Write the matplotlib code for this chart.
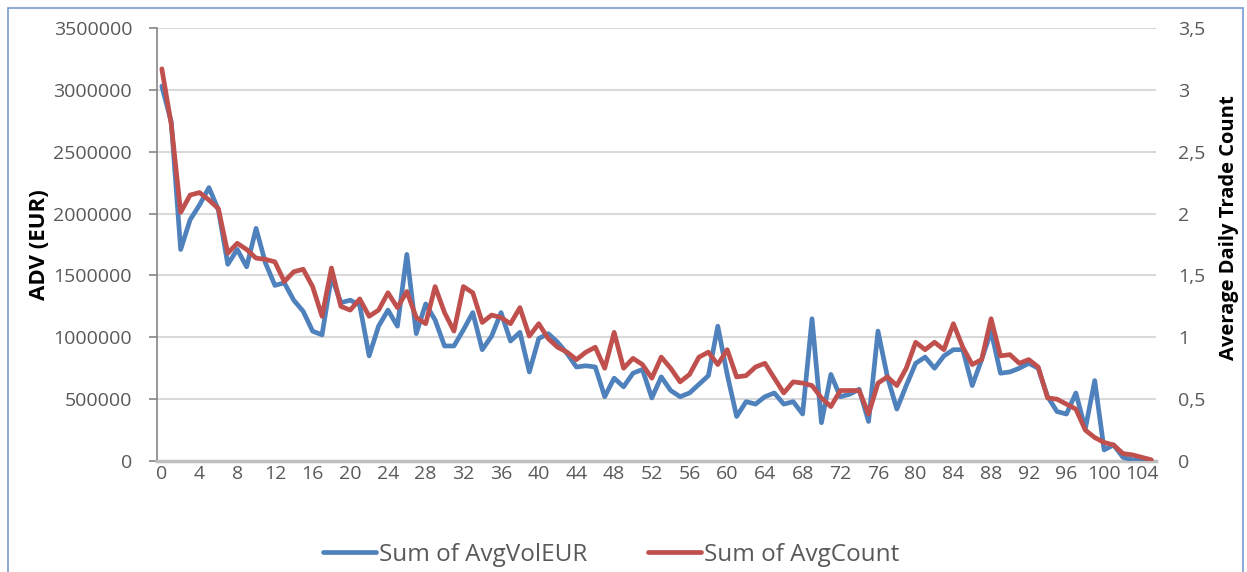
import numpy as np
import matplotlib
matplotlib.use("Agg")
import matplotlib.pyplot as plt
from matplotlib.patches import Rectangle
from matplotlib.ticker import FuncFormatter

# values
days = list(range(106))
avg_vol_eur_m = [
    3.03, 2.74, 1.71, 1.95, 2.07, 2.21, 2.03, 1.59, 1.71, 1.57,
    1.88, 1.60, 1.42, 1.44, 1.30, 1.21, 1.05, 1.02, 1.49, 1.28,
    1.30, 1.26, 0.85, 1.09, 1.22, 1.09, 1.67, 1.03, 1.27, 1.14,
    0.93, 0.93, 1.06, 1.20, 0.90, 1.01, 1.20, 0.97, 1.04, 0.72,
    0.99, 1.03, 0.96, 0.87, 0.76, 0.77, 0.76, 0.52, 0.67, 0.60,
    0.71, 0.74, 0.51, 0.68, 0.57, 0.52, 0.55, 0.62, 0.69, 1.09,
    0.70, 0.36, 0.48, 0.46, 0.52, 0.55, 0.46, 0.48, 0.38, 1.15,
    0.31, 0.70, 0.52, 0.54, 0.58, 0.32, 1.05, 0.68, 0.42, 0.61,
    0.79, 0.84, 0.75, 0.85, 0.90, 0.90, 0.61, 0.82, 1.05, 0.71,
    0.72, 0.75, 0.79, 0.75, 0.52, 0.40, 0.38, 0.55, 0.26, 0.65,
    0.09, 0.13, 0.03, 0.01, 0.01, 0.005,
]
avg_count = [
    3.17, 2.72, 2.01, 2.15, 2.17, 2.11, 2.04, 1.68, 1.76, 1.71,
    1.64, 1.63, 1.61, 1.45, 1.53, 1.55, 1.41, 1.17, 1.56, 1.25,
    1.22, 1.31, 1.17, 1.22, 1.36, 1.24, 1.37, 1.16, 1.11, 1.41,
    1.20, 1.05, 1.41, 1.36, 1.12, 1.18, 1.16, 1.11, 1.24, 1.01,
    1.11, 0.99, 0.92, 0.88, 0.82, 0.88, 0.92, 0.75, 1.04, 0.75,
    0.83, 0.78, 0.67, 0.84, 0.75, 0.64, 0.70, 0.84, 0.88, 0.78,
    0.90, 0.68, 0.69, 0.76, 0.79, 0.67, 0.55, 0.64, 0.63, 0.61,
    0.51, 0.44, 0.57, 0.57, 0.57, 0.38, 0.63, 0.68, 0.61, 0.75,
    0.96, 0.90, 0.96, 0.90, 1.11, 0.92, 0.78, 0.82, 1.15, 0.85,
    0.86, 0.79, 0.82, 0.76, 0.51, 0.50, 0.46, 0.42, 0.25, 0.19,
    0.15, 0.13, 0.06, 0.05, 0.03, 0.01,
]
avg_vol_eur = [v * 1e6 for v in avg_vol_eur_m]
x_ticks = list(range(0, 105, 4))

plt.rcParams['font.family'] = ['Open Sans', 'DejaVu Sans']

fig = plt.figure(figsize=(12.47, 5.72), dpi=100)
ax = fig.add_axes([0.126, 0.194, 0.801, 0.757])
ax2 = ax.twinx()

grey = '#595959'
ax.plot(days, avg_vol_eur, color='#4f81bd', lw=3.4, solid_capstyle='round',
        solid_joinstyle='round', label='Sum of AvgVolEUR', zorder=3)
ax2.plot(days, avg_count, color='#c0504d', lw=3.4, solid_capstyle='round',
         solid_joinstyle='round', label='Sum of AvgCount', zorder=3)

ax.set_xlim(-0.5, 105.5)
ax.set_ylim(0, 3500000)
ax2.set_ylim(0, 3.5)
ax.set_yticks(np.arange(0, 3500001, 500000))
ax.yaxis.set_major_formatter(FuncFormatter(lambda v, p: f"{int(v)}"))
ax2.set_yticks(np.arange(0, 3.51, 0.5))
ax2.yaxis.set_major_formatter(
    FuncFormatter(lambda v, p: (f"{v:g}").replace('.', ',')))
ax.set_xticks(x_ticks)
ax.set_xticklabels([str(t) for t in x_ticks])

ax.grid(axis='y', color='#d9d9d9', lw=1.5, zorder=0)
ax.set_axisbelow(True)

for a in (ax, ax2):
    for s in a.spines.values():
        s.set_visible(False)
ax.spines['left'].set_visible(True)
ax.spines['left'].set_color('#868686')
ax.spines['left'].set_linewidth(1.2)
ax.spines['bottom'].set_visible(True)
ax.spines['bottom'].set_color('#bfbfbf')
ax.spines['bottom'].set_linewidth(2.5)

ax.tick_params(axis='y', colors='#868686', labelcolor=grey, labelsize=14,
               length=6, width=1.2, pad=12)
ax.tick_params(axis='x', length=0, labelcolor=grey, labelsize=14, pad=3)
ax2.tick_params(axis='y', length=0, labelcolor=grey, labelsize=14, pad=16)

ax.set_ylabel('ADV (EUR)', fontsize=16, fontweight='bold')
ax.yaxis.set_label_coords(-0.107, 0.5)
ax2.set_ylabel('Average Daily Trade Count', fontsize=14.5, fontweight='bold')
ax2.yaxis.set_label_coords(1.063, 0.538)

h1, l1 = ax.get_legend_handles_labels()
h2, l2 = ax2.get_legend_handles_labels()
fig.legend(h1 + h2, l1 + l2, loc='center', bbox_to_anchor=(0.49, 0.03),
           ncol=2, frameon=False, fontsize=17.5, labelcolor=grey,
           handlelength=2.2, handletextpad=0.12, columnspacing=2.5)

fig.patches.append(Rectangle((8 / 1247, -0.05), 1235 / 1247, 1.05 - 8 / 572,
                             transform=fig.transFigure, fill=False,
                             edgecolor='#7a9ad0', lw=1.2))

fig.savefig('out.png', dpi=100)
